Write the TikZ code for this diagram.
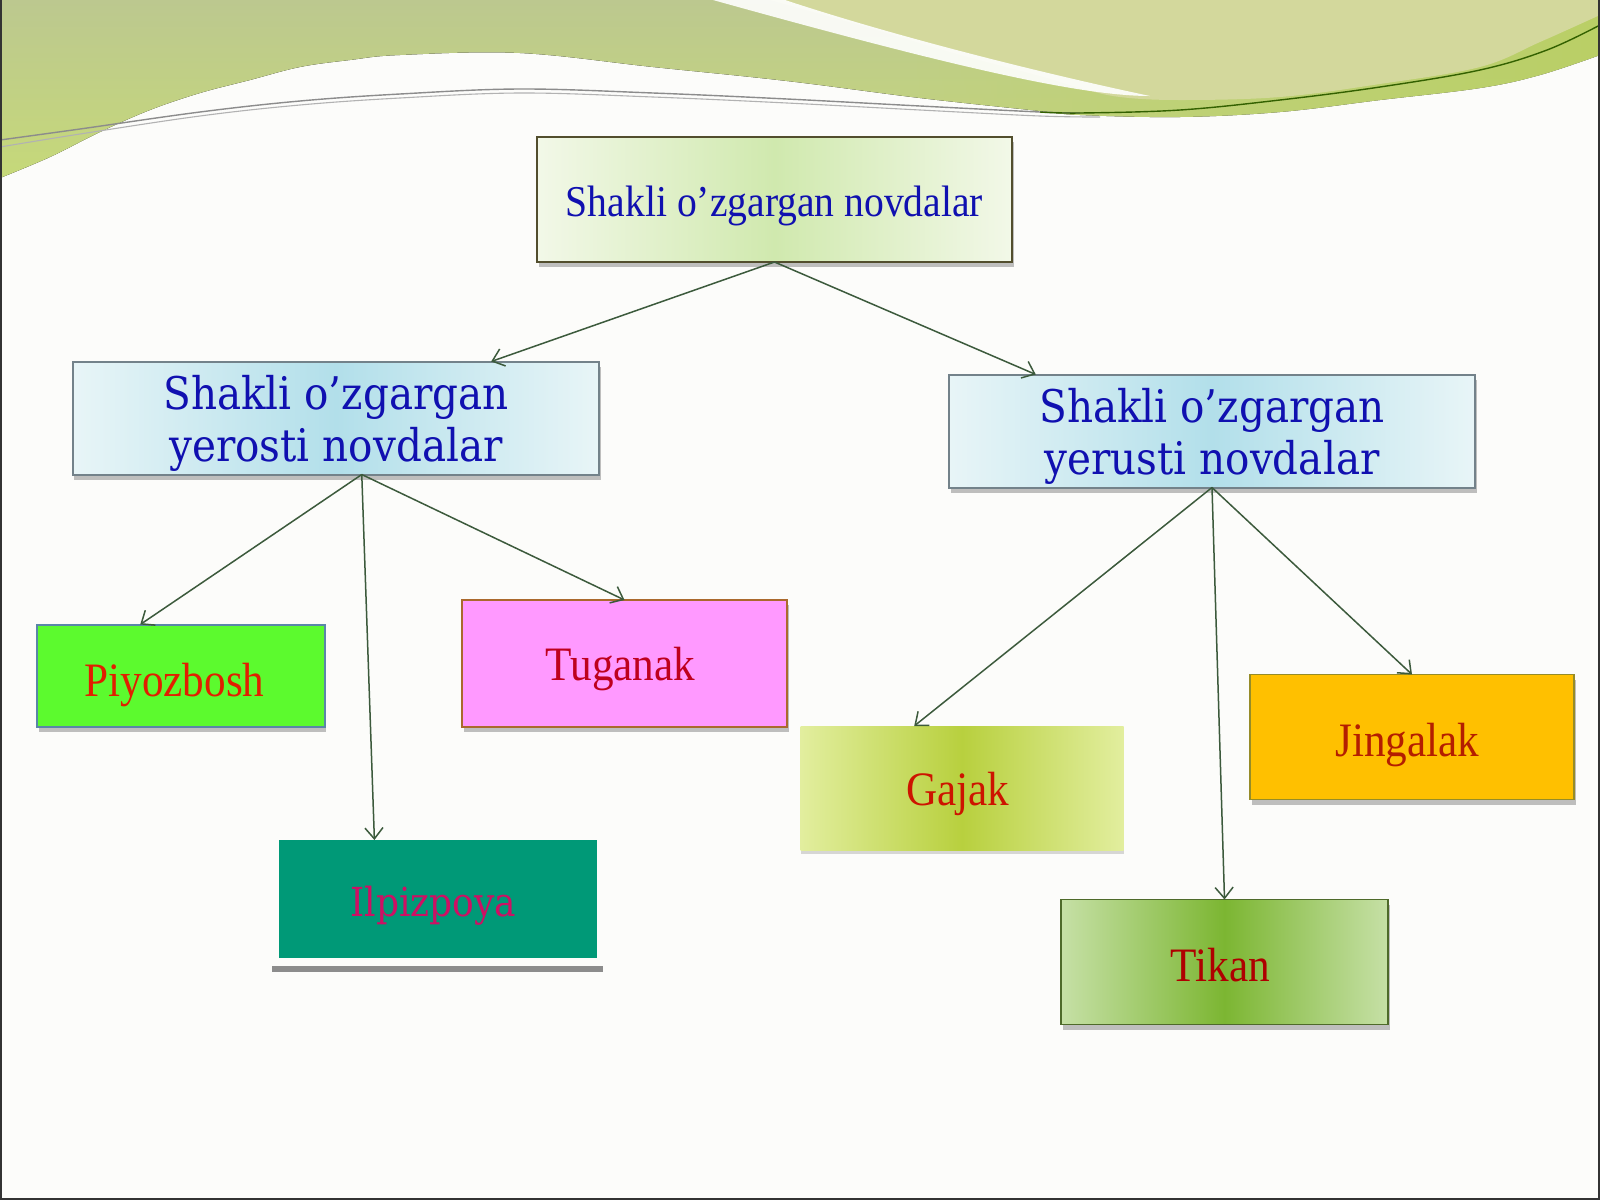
\documentclass[tikz,border=0pt]{standalone}
\usepackage{fontspec}
\usetikzlibrary{arrows.meta,shadows,calc,fadings}
\newfontfamily\tfont[FakeStretch=0.9]{Liberation Serif}
\newfontfamily\dfont[FakeStretch=0.9]{DejaVu Serif}
\newcommand\mvtxt[3]{\raisebox{#2}[\height][\depth]{\kern#1\relax #3\kern-#1\relax}}
\definecolor{bgpage}{HTML}{FCFCFA}
\definecolor{bgAtop}{HTML}{BCC88F}
\definecolor{bgAbot}{HTML}{C6D979}
\definecolor{bandc}{HTML}{BAD066}
\definecolor{bgB}{HTML}{D3D89C}
\definecolor{linec}{HTML}{3C5A3C}
\definecolor{bluetxt}{HTML}{1010B0}
\definecolor{topE}{HTML}{F2F8E8}
\definecolor{topM}{HTML}{D0E9AE}
\definecolor{midE}{HTML}{E8F5F7}
\definecolor{midM}{HTML}{B2DFEA}
\definecolor{piyoz}{HTML}{5CFA2E}
\definecolor{tugan}{HTML}{FF99FF}
\definecolor{ilpiz}{HTML}{009977}
\definecolor{jinga}{HTML}{FFC000}
\definecolor{gajE}{HTML}{E2EE9E}
\definecolor{gajM}{HTML}{B8D03E}
\definecolor{tikE}{HTML}{C6E0A6}
\definecolor{tikM}{HTML}{7CB632}
\begin{document}
\begin{tikzpicture}[x=1bp,y=-1bp,
  box/.style={rectangle, inner sep=0pt, outer sep=0pt, anchor=center, align=center},
  shad/.style={drop shadow={shadow xshift=1.5bp, shadow yshift=-5bp, opacity=0.35, fill=black!70}},
  toptxt/.style={font={\tfont\fontsize{44bp}{52bp}\selectfont}, text=bluetxt},
  midtxt/.style={font={\dfont\fontsize{45bp}{52bp}\selectfont}, text=bluetxt},
  leaftxt/.style={font={\tfont\fontsize{48bp}{56bp}\selectfont}},
  conn/.style={draw=linec, line width=1.5bp, -{Straight Barb[length=11bp,width=18bp,line width=1.5bp]}}
]
\useasboundingbox (0,0) rectangle (1600,1200);
\fill[bgpage] (0,0) rectangle (1600,1200);
% background swoosh
\fill[top color=bgAtop, bottom color=bgAbot] (0,0) -- (1600,0) -- plot[smooth, tension=0.6] coordinates {(1600,55) (1540,75) (1480,88) (1380,100) (1280,112) (1180,117) (1080,115) (1040,111) (920,98) (787,81) (653,67) (520,53) (400,55) (350,60) (300,67) (250,80) (200,93) (150,110) (100,132) (50,157) (0,178)} -- cycle;
\fill[bandc, path fading=west] (900,0) -- (1600,0) -- plot[smooth, tension=0.6] coordinates {(1600,55) (1540,75) (1480,88) (1380,100) (1280,112) (1180,117) (1080,115) (1040,111) (920,98) (900,96)} -- cycle;
\fill[bgB] (770,0) -- (1600,0) -- plot[smooth, tension=0.6] coordinates {(1600,15) (1540,42) (1480,67) (1380,84) (1280,97) (1180,100) (1120,97) (1080,88) (1040,76) (950,52) (860,25) (770,0)} -- cycle;
\fill[white, opacity=0.9] (713,0) -- (785,0) .. controls (900,38) and (1050,75) .. (1150,96) .. controls (1080,96) and (950,66) .. (713,0) -- cycle;
\draw[black!45, line width=1.4bp] plot[smooth, tension=0.6] coordinates {(0,140) (80,129) (200,112) (300,101) (400,94) (520,89) (653,93) (787,99) (920,106) (1040,112) (1080,113)};
\draw[black!30, line width=1.1bp] plot[smooth, tension=0.6] coordinates {(0,147) (80,134) (200,116) (300,105) (400,98) (520,93) (653,97) (787,103) (920,110) (1040,116) (1100,117)};
\draw[green!30!black!60!olive, line width=1.4bp] plot[smooth, tension=0.6] coordinates {(1040,112) (1080,113) (1180,110) (1280,100) (1380,87) (1480,70) (1547,50) (1600,25)};
\draw[black!80, line width=2bp] (1,0) -- (1,1199) -- (1599,1199) -- (1599,0);
% boxes
\node[box, shad, draw=black!55!olive, line width=2bp, left color=topE, right color=topE, middle color=topM,
  minimum width=475bp, minimum height=125bp, toptxt] (top) at (774.5,199.5) {\mvtxt{0bp}{-6bp}{Shakli o’zgargan novdalar}};
\node[box, shad, draw=black!55!cyan!40!gray, line width=2bp, left color=midE, right color=midE, middle color=midM,
  minimum width=526bp, minimum height=113bp, midtxt] (lm) at (336,418) {\rule{0pt}{44bp}Shakli o’zgargan\\yerosti novdalar};
\node[box, shad, draw=black!55!cyan!40!gray, line width=2bp, left color=midE, right color=midE, middle color=midM,
  minimum width=526bp, minimum height=113bp, midtxt] (rm) at (1212,431) {\rule{0pt}{44bp}Shakli o’zgargan\\yerusti novdalar};
\node[box, shad, fill=piyoz, draw={rgb,255:red,90;green,134;blue,168}, line width=2bp, minimum width=287bp, minimum height=102bp,
  leaftxt, text={rgb,255:red,225;green,30;blue,0}] (piyoz) at (181,675.5) {\mvtxt{-6.5bp}{-10bp}{Piyozbosh}};
\node[box, shad, fill=tugan, draw={rgb,255:red,170;green,105;blue,45}, line width=1.6bp, minimum width=325bp, minimum height=127bp,
  leaftxt, text={rgb,255:red,190;green,0;blue,30}] (tugan) at (624.5,663.5) {\mvtxt{-4bp}{-6bp}{Tuganak}};
\fill[black!45] (272,966) rectangle (603,972);
\node[box, fill=ilpiz, minimum width=318bp, minimum height=118bp,
  font={\dfont\fontsize{40bp}{48bp}\selectfont}, text={rgb,255:red,205;green,16;blue,100}] (ilpiz) at (438,899) {\mvtxt{-4.5bp}{-7bp}{Ilpizpoya}};
\node[box, drop shadow={shadow xshift=0bp, shadow yshift=-4bp, opacity=0.25, fill=black!60}, left color=gajE, right color=gajE, middle color=gajM,
  minimum width=323bp, minimum height=124bp, leaftxt, text={rgb,255:red,205;green,20;blue,0}] (gajak) at (962,788) {\mvtxt{-4bp}{-6bp}{Gajak}};
\node[box, shad, fill=jinga, draw={rgb,255:red,150;green,140;blue,40}, line width=1.6bp, minimum width=324bp, minimum height=125bp,
  leaftxt, text={rgb,255:red,180;green,30;blue,0}] (jinga) at (1412,737) {\mvtxt{-4.5bp}{-8bp}{Jingalak}};
\node[box, shad, draw={rgb,255:red,78;green,106;blue,42}, line width=1.6bp, left color=tikE, right color=tikE, middle color=tikM,
  minimum width=327bp, minimum height=125bp, leaftxt, text={rgb,255:red,175;green,0;blue,0}] (tikan) at (1224.5,962) {\mvtxt{-4bp}{-3bp}{Tikan}};
% connectors
\draw[conn] (top.south) -- ($(lm.north west)!0.795!(lm.north east)$);
\draw[conn] (top.south) -- ($(rm.north west)!0.165!(rm.north east)$);
\draw[conn] ($(lm.south west)!0.549!(lm.south east)$) -- ($(piyoz.north west)!0.358!(piyoz.north east)$);
\draw[conn] ($(lm.south west)!0.549!(lm.south east)$) -- ($(ilpiz.north west)!0.30!(ilpiz.north east)$);
\draw[conn] ($(lm.south west)!0.549!(lm.south east)$) -- (tugan.north);
\draw[conn] (rm.south) -- ($(gajak.north west)!0.352!(gajak.north east)$);
\draw[conn] (rm.south) -- (tikan.north);
\draw[conn] (rm.south) -- (jinga.north);
\end{tikzpicture}
\end{document}
